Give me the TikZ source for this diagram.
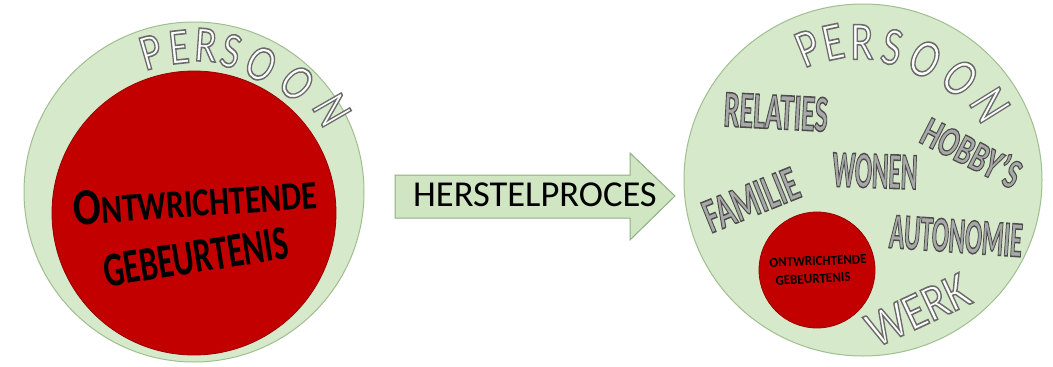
\documentclass[tikz,border=0pt]{standalone}
\usepackage{fontspec}
\setmainfont{Carlito}
\usetikzlibrary{shapes.geometric}
\definecolor{pgreen}{HTML}{D6E9CA}
\definecolor{pgreenline}{HTML}{9FBF90}
\definecolor{arrfill}{HTML}{D0E5C2}
\definecolor{arrline}{HTML}{8FAF84}
\definecolor{pred}{HTML}{C20000}
\definecolor{predline}{HTML}{9A0000}
\definecolor{wgray}{HTML}{A8A8A8}
% outlined text: fill in colour #1, stroke with PDF colour #2 and width #3
\newcommand\strk[4]{{\color{#1}\special{pdf:literal direct 2 Tr #3 w #2 RG}#4\special{pdf:literal direct 0 Tr}}}
\newcommand\outl[1]{\strk{white}{0.42 0.42 0.42}{1.6}{#1}}
\newcommand\bigL[1]{\scalebox{0.8}[1]{\fontsize{51}{51}\selectfont\outl{#1}}}
\newcommand\bigR[1]{\scalebox{0.78}[1]{\fontsize{54}{54}\selectfont\outl{#1}}}
\newcommand\gword[3]{\resizebox{#1}{#2}{\fontsize{50}{50}\fontseries{b}\selectfont\strk{wgray}{0.3 0.3 0.3}{1.5}{#3}}}
\tikzset{
  greenball/.style={ellipse, draw=pgreenline, fill=pgreen, line width=1pt, inner sep=0pt},
  redball/.style={circle, draw=predline, fill=pred, line width=0.8pt, inner sep=0pt},
  letter/.style={inner sep=0pt},
  word/.style={inner sep=0pt},
  redtext/.style={inner sep=0pt, text=black}
}
\begin{document}
\begin{tikzpicture}[x=1pt,y=-1pt]
\useasboundingbox (0,0) rectangle (1053,367);
\fill[white] (0,0) rectangle (1053,367);

% left
\node[greenball, minimum width=340pt, minimum height=340pt] (outerL) at (194,192) {};
\node[redball, minimum size=284pt] (redL) at (194,213) {};
\foreach \ch/\px/\py/\rot [count=\i] in {P/151/52/16, E/179/47/6, R/206/45/-4, S/231/51/-14, O/261/64/-28, O/297/83/-44, N/332/110/-60}
  \node[letter, rotate=\rot] (pL\i) at (\px,\py) {\bigL{\ch}};
\node[redtext, rotate=4] (ontL) at (195,200) {\resizebox{244pt}{34pt}{\fontsize{40}{40}\fontseries{b}\selectfont{\fontsize{52}{52}\selectfont O}NTWRICHTENDE}};
\node[redtext, rotate=9] (gebL) at (196,257) {\resizebox{186pt}{32pt}{\fontsize{40}{40}\fontseries{b}\selectfont GEBEURTENIS}};

% arrow
\coordinate (a1) at (395,175);
\coordinate (a2) at (630,175);
\coordinate (a3) at (630,153);
\coordinate (a4) at (675,196);
\coordinate (a5) at (630,240);
\coordinate (a6) at (630,218);
\coordinate (a7) at (395,218);
\draw[draw=arrline, fill=arrfill, line width=1pt, line join=miter] (a1) -- (a2) -- (a3) -- (a4) -- (a5) -- (a6) -- (a7) -- cycle;
\node[inner sep=0pt, font=\fontsize{36.5}{36.5}\selectfont] (herstel) at (535,195) {HERSTELPROCES};

% right
\node[greenball, minimum width=358pt, minimum height=352pt] (outerR) at (863,180) {};
\foreach \ch/\px/\py/\rot [count=\i] in {P/808/48/22, E/833/42/12, R/862/42/0, S/892/47/-12, O/925/59/-27, O/960/78/-43, N/990/105/-58}
  \node[letter, rotate=\rot] (pR\i) at (\px,\py) {\bigR{\ch}};
\node[word, rotate=-3] (relaties) at (776,112) {\gword{104pt}{34pt}{RELATIES}};
\node[word, rotate=-2] (wonen) at (875,171) {\gword{85pt}{34pt}{WONEN}};
\node[word, rotate=-27] (hobbys) at (972,152) {\gword{106pt}{31pt}{HOBBY’S}};
\node[word, rotate=22] (familie) at (751,200) {\gword{99pt}{32pt}{FAMILIE}};
\node[word, rotate=-4] (autonomie) at (956,236) {\gword{133pt}{33pt}{AUTONOMIE}};
\node[word, rotate=25] (werk) at (918,310) {\scalebox{0.85}[1]{\fontsize{52}{52}\selectfont\outl{WERK}}};
\node[redball, minimum size=116pt] (redR) at (817,270) {};
\node[redtext, rotate=2] (ontR) at (818,261) {\resizebox{97pt}{9pt}{\fontseries{b}\selectfont ONTWRICHTENDE}};
\node[redtext, rotate=3] (gebR) at (813,279) {\resizebox{75pt}{9pt}{\fontseries{b}\selectfont GEBEURTENIS}};
\end{tikzpicture}
\end{document}
